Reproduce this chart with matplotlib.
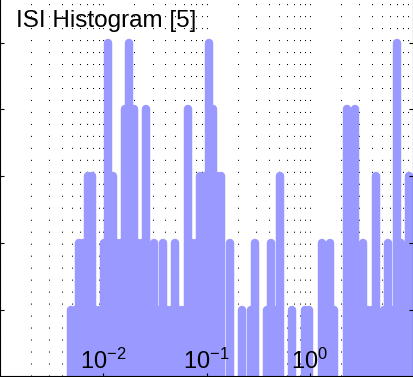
import matplotlib
matplotlib.use("Agg")
import matplotlib.pyplot as plt
import numpy as np

# ISI histogram: log-spaced bins (seconds) and spike-interval counts
log_lo = -2.334
log_hi = 0.985
counts = [1, 1, 2, 2, 3, 3, 1, 1, 2, 5,
          3, 2, 2, 4, 5, 4, 2, 2, 4, 1,
          2, 1, 2, 1, 1, 2, 1, 1, 4, 2,
          2, 3, 3, 5, 4, 3, 3, 0, 2, 0,
          0, 1, 0, 1, 2, 0, 0, 1, 2, 1,
          3, 0, 0, 1, 0, 0, 1, 1, 0, 0,
          2, 1, 2, 1, 0, 0, 4, 2, 4, 1,
          2, 1, 1, 3, 0, 1, 2, 1, 5, 2,
          1, 3]
title = "ISI Histogram [5]"
xticks = [1e-2, 1e-1, 1e0]
yticks = [1, 2, 3, 4, 5]

plt.rcParams['font.family'] = ['Liberation Sans', 'DejaVu Sans']
plt.rcParams['mathtext.fontset'] = 'custom'
plt.rcParams['mathtext.rm'] = 'Liberation Sans'

edges = np.logspace(log_lo, log_hi, len(counts) + 1)
centers = np.sqrt(edges[:-1] * edges[1:])
counts = np.array(counts)
keep = counts > 0

W, H = 413, 377
fig = plt.figure(figsize=(W / 100, H / 100), dpi=100)
unit = 66.7        # pixels per count
base = 376.3       # pixel row of zero count
ax = fig.add_axes([0, (H - base) / H, 1, 6 * unit / H])
ax.set_xscale('log')
ax.set_xlim(1e-3, 1e1)
ax.set_ylim(0, 6)
ax.set_axisbelow(False)   # tick labels sit on top of the bars

# dotted vertical grid at every log tick, under the bars
gridx = [m * 10.0 ** e for e in range(-3, 1) for m in range(1, 10)]
ax.vlines(gridx, 0, 6, colors='black', linewidth=0.75,
          linestyles=[(0, (1, 10.5))], zorder=1)

# bars drawn as thick lines with round caps
ax.vlines(centers[keep], 0, counts[keep], colors='#9999ff',
          linewidth=6.1, capstyle='round', zorder=2)

ax.set_xticks(xticks)
ax.set_yticks(yticks)
ax.tick_params(axis='x', which='major', direction='in', length=2.5,
               labelsize=17, pad=-1.8)
ax.tick_params(axis='x', which='minor', length=0)
ax.tick_params(axis='y', direction='in', length=2.6, left=True, right=True,
               labelleft=False)
for lab in ax.get_xticklabels():
    lab.set_verticalalignment('bottom')

for s in ['left', 'bottom', 'right']:
    ax.spines[s].set_linewidth(0.8)
ax.spines['top'].set_visible(False)

fig.text(16.5 / W, 1 - 26.7 / H, title, fontsize=17.5, va='baseline', ha='left')

plt.savefig('out.png', dpi=100)
